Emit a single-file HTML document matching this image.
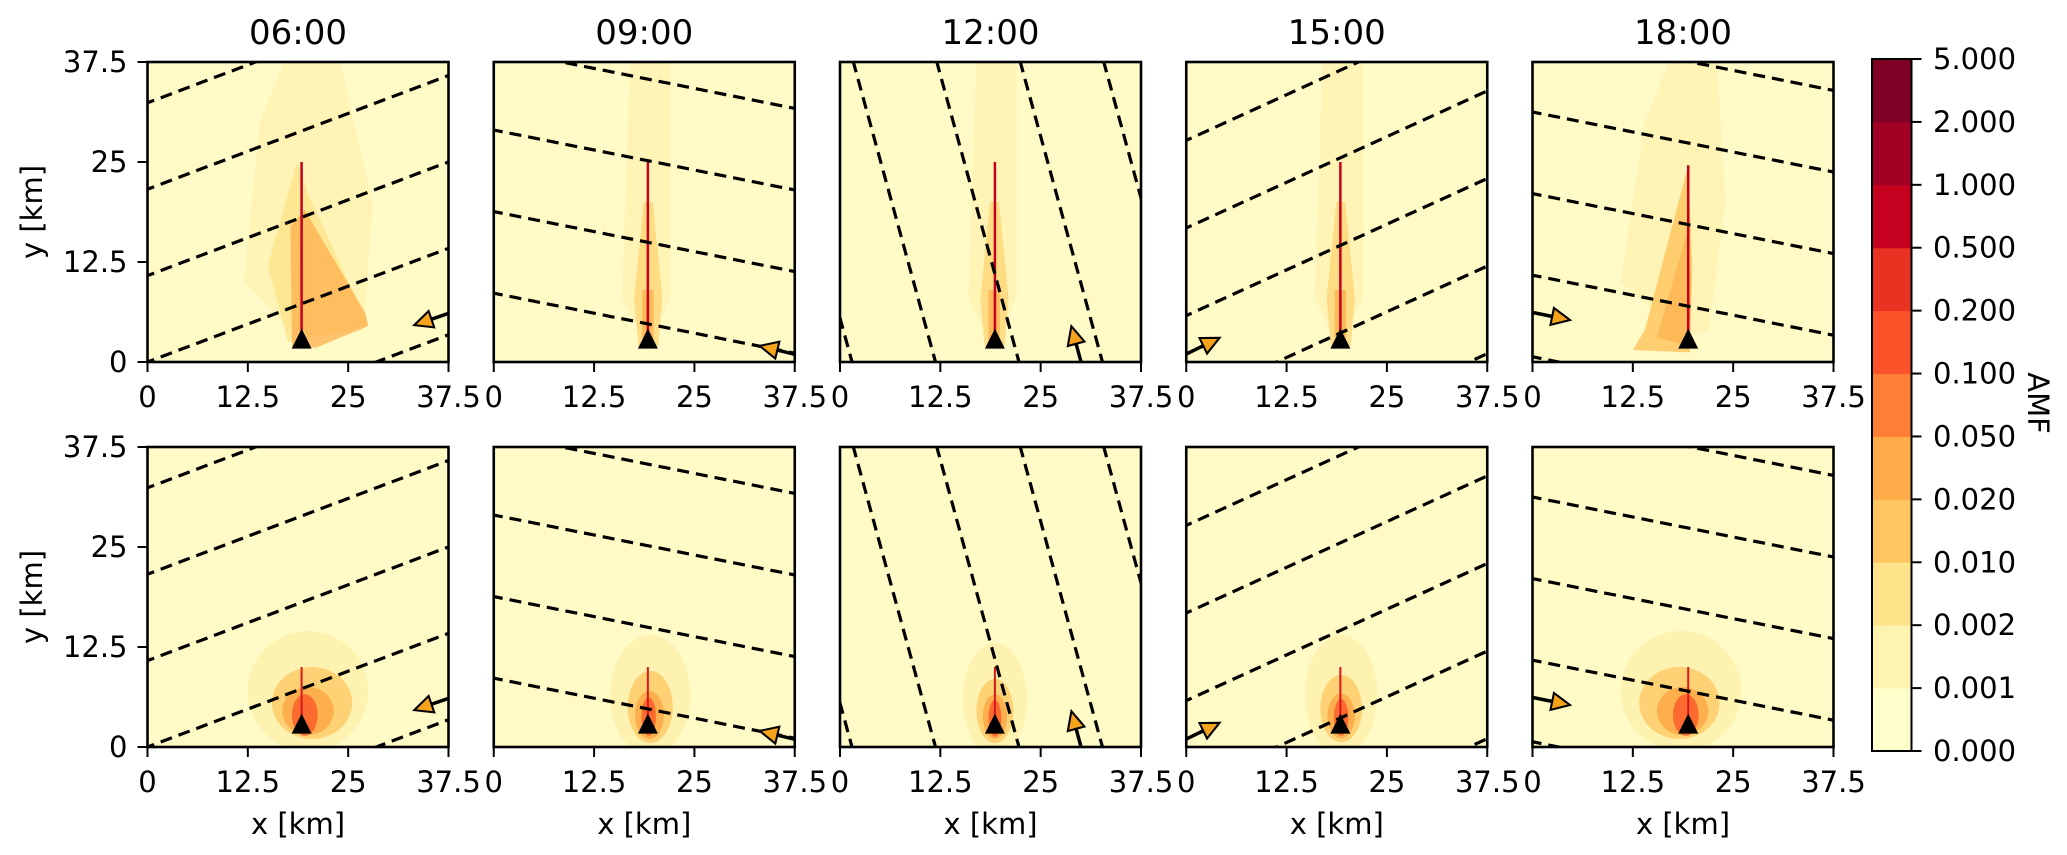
<!DOCTYPE html>
<html><head><meta charset="utf-8">
<style>
html,body{margin:0;padding:0;background:#fff;width:2067px;height:855px;overflow:hidden;}
svg{display:block;font-family:"DejaVu Sans","Liberation Sans",sans-serif;}
</style></head>
<body>
<svg id="fig" width="2067" height="855" viewBox="0 0 2067 855" xmlns="http://www.w3.org/2000/svg"></svg>
<script>
const times=["06:00","09:00","12:00","15:00","18:00"];
const lineAxis=["y","y","x","y","y"];
const lineSlope=[0.379,-0.2,-0.273,0.457,-0.2];
const lineOffset=[0,8.6,1.5,5.8,0.65];
const lineSpacing=[10.8,10.2,10.4,10.95,10.2];
const arrowTail=[[39,6.6],[39,0.6],[30.3,-1],[-1,0.5],[-1,6.4]];
const arrowTip=[[33.5,4.7],[33.4,1.95],[28.9,4.2],[3.9,2.9],[4.4,5.3]];
const sourceX=[19.2,19.2,19.3,19.2,19.4];
const sourceY=2.8;
const plumeTop=[25,25,25,25,24.6];
const tickVals=[0,12.5,25,37.5];
const tickLabels=["0","12.5","25","37.5"];
const cbLevels=["0.000","0.001","0.002","0.010","0.020","0.050","0.100","0.200","0.500","1.000","2.000","5.000"];
const cbColors=["#ffffcc","#fff3b0","#fee38b","#fec561","#feab49","#fd7e35","#fc522a","#e83222","#c6001f","#a30026","#800026"];
const topPlume=[
 [["#fee999",0.35,[[19,3],[12,10],[14,30],[17,37.5],[24,37.5],[28,20],[27,4]]],["#fee38b",0.8,[[18.6,25],[15,12],[17.5,2.5],[27.5,4.5],[20,21]]],["#fdb04e",0.75,[[17.8,17],[18,2],[21,1.8],[27.5,4.5],[27.2,6],[19.6,19]]]],
 [["#fee999",0.35,[[19,2],[16,8],[17,37.5],[22,37.5],[22,8]]],["#fed26e",0.7,[[18,2],[17.5,8],[18.7,20],[19.8,20],[21,8],[20.5,2]]],["#feab49",0.7,[[18.5,2],[18.5,9],[19.9,9],[19.9,2]]]],
 [["#fee999",0.35,[[19,2],[16,8],[17,37.5],[22,37.5],[22,8]]],["#fed26e",0.7,[[18,2],[17.5,8],[18.7,20],[19.8,20],[21,8],[20.5,2]]],["#feab49",0.7,[[18.5,2],[18.5,9],[19.9,9],[19.9,2]]]],
 [["#fee999",0.35,[[19,2],[16,8],[17,37.5],[22,37.5],[22,8]]],["#fed26e",0.7,[[18,2],[17.5,8],[18.7,20],[19.8,20],[21,8],[20.5,2]]],["#feab49",0.7,[[18.5,2],[18.5,9],[19.9,9],[19.9,2]]]],
 [["#fee999",0.35,[[19,3],[11,10],[14,30],[17,37.5],[23,37.5],[24,20],[22,4]]],["#fec561",0.85,[[19.4,24.6],[14,4],[12.5,1.5],[19.6,1.2],[19.9,12]]],["#feab49",0.6,[[19.2,16],[15.5,3],[19.6,2],[19.8,10]]]]
];
const botBlobs=[
 [[20,7,7.5,7.5,"#fee999",0.5],[20.5,5.5,5,4.5,"#fec561",0.75],[20,4.5,3.2,3,"#feab49",0.9],[19.6,4,1.6,2.6,"#fc6a2f",1]],
 [[19.5,6.5,5,7.5,"#fee999",0.5],[19.5,5,2.8,4.5,"#fec561",0.75],[19.4,4,1.8,3,"#feab49",0.9],[19.3,3.8,0.9,2.4,"#fc6a2f",1]],
 [[19.3,6,4,7,"#fee999",0.5],[19.3,4.5,2.3,4,"#fec561",0.75],[19.3,3.8,1.5,2.8,"#feab49",0.9],[19.3,3.6,0.8,2.3,"#fc6a2f",1]],
 [[19.3,6.5,4.5,7.5,"#fee999",0.5],[19.3,4.8,2.6,4.2,"#fec561",0.75],[19.3,3.9,1.7,2.8,"#feab49",0.9],[19.3,3.7,0.9,2.3,"#fc6a2f",1]],
 [[18.5,7,7.5,7.5,"#fee999",0.5],[18.3,5.5,5,4.5,"#fec561",0.75],[18.7,4.5,3.2,3,"#feab49",0.9],[19.1,4,1.6,2.6,"#fc6a2f",1]]
];

const NS="http://www.w3.org/2000/svg";
const svg=document.getElementById('fig');
function mk(tag,attrs,parent){const e=document.createElementNS(NS,tag);for(const k in attrs)e.setAttribute(k,attrs[k]);(parent||svg).appendChild(e);return e;}
const PW=301,PH=300,colStep=346.25,left0=147.5,rowTops=[62,447];
const defs=mk('defs',{});
const arrowMarker=mk('marker',{id:'ah',viewBox:'0 0 10 10',refX:'8',refY:'5',markerWidth:'6.5',markerHeight:'6.5',orient:'auto',markerUnits:'strokeWidth'},defs);
mk('path',{d:'M1,1.2 L9,5 L1,8.8 Z',fill:'#f5a31a',stroke:'#000','stroke-width':'0.9'},arrowMarker);

for(let r=0;r<2;r++){
 for(let c=0;c<5;c++){
  const L=left0+c*colStep,T=rowTops[r];
  const X=v=>L+v*PW/37.5, Y=v=>T+PH-v*PH/37.5;
  const cid='clip'+r+'_'+c;
  const cp=mk('clipPath',{id:cid},defs);
  mk('rect',{x:L,y:T,width:PW,height:PH},cp);
  const g=mk('g',{'clip-path':'url(#'+cid+')'});
  
  
  const bg=mk('rect',{x:L,y:T,width:PW,height:PH,fill:'#fffac6'},g);
  
  
  if(r===0){
   topPlume[c].forEach(([col,op,pts])=>{
    const p=mk('polygon',{points:pts.map(q=>X(q[0])+','+Y(q[1])).join(' '),fill:col,opacity:op},g);
    
    
   });
   const ln=mk('line',{x1:X(sourceX[c]),y1:Y(sourceY),x2:X(sourceX[c]),y2:Y(plumeTop[c]),stroke:'#c6001f','stroke-width':2.5},g);
   
   
  } else {
   botBlobs[c].forEach(([cx,cy,rx,ry,col,op])=>{
    const e=mk('ellipse',{cx:X(cx),cy:Y(cy),rx:rx*PW/37.5,ry:ry*PH/37.5,fill:col,opacity:op},g);
    
    
   });
   const ln=mk('line',{x1:X(sourceX[c]),y1:Y(sourceY),x2:X(sourceX[c]),y2:Y(10),stroke:'#d7191c','stroke-width':2},g);
   
   
  }
  for(let k=-3;k<=5;k++){
   const b=lineOffset[c]+k*lineSpacing[c];
   let x1,y1,x2,y2;
   if(lineAxis[c]==='y'){x1=-5;x2=45;y1=lineSlope[c]*x1+b;y2=lineSlope[c]*x2+b;}
   else{y1=-5;y2=45;x1=lineSlope[c]*y1+b;x2=lineSlope[c]*y2+b;}
   const dl=mk('line',{x1:X(x1),y1:Y(y1),x2:X(x2),y2:Y(y2),stroke:'#000','stroke-width':3.2,'stroke-dasharray':'12,7'},g);
   
   
  }
  const ar=mk('line',{x1:X(arrowTail[c][0]),y1:Y(arrowTail[c][1]),x2:X(arrowTip[c][0]),y2:Y(arrowTip[c][1]),stroke:'#000','stroke-width':3.5,'marker-end':'url(#ah)'},g);
  
  
  const sx=X(sourceX[c]),sy=Y(sourceY);
  const tri=mk('polygon',{points:(sx-10)+','+(sy+9)+' '+(sx+10)+','+(sy+9)+' '+sx+','+(sy-11),fill:'#000'},g);
  
  
  const fr=mk('rect',{x:L,y:T,width:PW,height:PH,fill:'none',stroke:'#000','stroke-width':2.6});
  
  
  tickVals.forEach((v,i)=>{
   mk('line',{x1:X(v),y1:T+PH,x2:X(v),y2:T+PH+10,stroke:'#000','stroke-width':2});
   const t=mk('text',{x:X(v),y:T+PH+45,'font-size':29,'text-anchor':'middle',fill:'#000'});
   t.textContent=tickLabels[i];
   
   
  });
  if(c===0){
   tickVals.forEach((v,i)=>{
    mk('line',{x1:L-10,y1:Y(v),x2:L,y2:Y(v),stroke:'#000','stroke-width':2});
    const t=mk('text',{x:L-20,y:Y(v)+10,'font-size':29,'text-anchor':'end',fill:'#000'});
    t.textContent=tickLabels[i];
    
    
   });
   const yl=mk('text',{x:0,y:0,'font-size':29,'text-anchor':'middle',fill:'#000',transform:'translate(42,'+(T+PH/2)+') rotate(-90)'});
   yl.textContent='y [km]';
   
   
  }
  if(r===0){
   const tt=mk('text',{x:L+PW/2,y:44,'font-size':34,'text-anchor':'middle',fill:'#000'});
   tt.textContent=times[c];
   
   
  } else {
   const xl=mk('text',{x:L+PW/2,y:834,'font-size':29,'text-anchor':'middle',fill:'#000'});
   xl.textContent='x [km]';
   
   
  }
 }
}
const cbL=1872,cbW=39.5,cbT=59,cbB=751,nb=cbColors.length,bh=(cbB-cbT)/nb;
cbColors.forEach((col,i)=>{
 const rc=mk('rect',{x:cbL,y:cbB-(i+1)*bh,width:cbW,height:bh+0.5,fill:col});
 
 
});
const cbf=mk('rect',{x:cbL,y:cbT,width:cbW,height:cbB-cbT,fill:'none',stroke:'#000','stroke-width':2});


cbLevels.forEach((lab,i)=>{
 const yy=cbB-i*bh;
 mk('line',{x1:cbL+cbW,y1:yy,x2:cbL+cbW+10,y2:yy,stroke:'#000','stroke-width':2});
 const t=mk('text',{x:1933,y:yy+10,'font-size':29,fill:'#000'});
 t.textContent=lab;
 
 
});
const amf=mk('text',{x:0,y:0,'font-size':29,'text-anchor':'middle',fill:'#000',transform:'translate(2028,403) rotate(90)'});
amf.textContent='AMF';


</script>
</body></html>
